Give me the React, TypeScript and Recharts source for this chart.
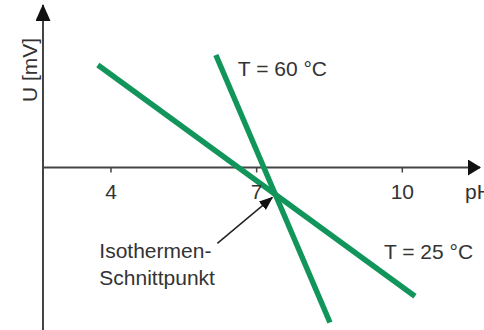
import React from 'react';
import { LineChart, Line, XAxis, YAxis, ReferenceLine, ReferenceDot } from 'recharts';

// pH (x) / U in mV (y) — schematic electrode characteristic
const series25 = [
  { ph: 3.73, u: 82 },
  { ph: 10.26, u: -103 },
];
const series60 = [
  { ph: 6.16, u: 90 },
  { ph: 8.51, u: -124 },
];
const xTicks = [4, 7, 10];
const xDomain: [number, number] = [2.6, 11.6];
const yDomain: [number, number] = [-130, 130];

const label25 = 'T = 25 °C';
const label60 = 'T = 60 °C';
const yLabel = 'U [mV]';
const xLabel = 'pH';
const annotationLines = ['Isothermen-', 'Schnittpunkt'];

const GREEN = '#12955a';
const AXIS = '#444';
const TEXT = '#333';
const FONT = '"Liberation Sans", Arial, Helvetica, sans-serif';

// intersection of the two isotherms, derived from the series
function intersect(a: typeof series25, b: typeof series60) {
  const ma = (a[1].u - a[0].u) / (a[1].ph - a[0].ph);
  const mb = (b[1].u - b[0].u) / (b[1].ph - b[0].ph);
  const x = (b[0].u - a[0].u + ma * a[0].ph - mb * b[0].ph) / (ma - mb);
  const y = a[0].u + ma * (x - a[0].ph);
  return { x, y };
}
const cross = intersect(series25, series60);

const textStyle = { fontFamily: FONT, fontSize: 21, fill: TEXT };

export default function App() {
  return (
    <div style={{ position: 'absolute', left: 0, top: 0, width: 484, height: 330, background: '#fff' }}>
      <LineChart width={484} height={330} margin={{ top: 5, right: 4, bottom: 0, left: 0 }}>
        <defs>
          <marker id="arrowY" viewBox="0 0 17 15" refX={16} refY={7.5} markerWidth={17} markerHeight={15}
            markerUnits="userSpaceOnUse" orient="auto-start-reverse">
            <path d="M0,0 L17,7.5 L0,15 z" fill="#111" />
          </marker>
          <marker id="arrowX" viewBox="0 0 13 16" refX={12} refY={8} markerWidth={13} markerHeight={16}
            markerUnits="userSpaceOnUse" orient="auto">
            <path d="M0,0 L13,8 L0,16 z" fill="#111" />
          </marker>
          <marker id="arrowSmall" viewBox="0 0 14 11" refX={13} refY={5.5} markerWidth={14} markerHeight={11}
            markerUnits="userSpaceOnUse" orient="auto">
            <path d="M0,0 L14,5.5 L0,11 z" fill="#111" />
          </marker>
        </defs>
        <XAxis type="number" dataKey="ph" domain={xDomain} hide />
        <YAxis
          type="number"
          dataKey="u"
          domain={yDomain}
          width={43}
          tick={false}
          tickLine={false}
          axisLine={{ stroke: AXIS, strokeWidth: 2, markerStart: 'url(#arrowY)' } as any}
          label={(p: any) => {
            const vb = p.viewBox || {};
            const cx = (vb.x ?? 0) + (vb.width ?? 43) - 14;
            const cy = (vb.y ?? 5) + 65;
            return (
              <text x={cx} y={cy} textAnchor="middle" dominantBaseline="central"
                transform={`rotate(-90, ${cx}, ${cy})`} style={textStyle}>
                {yLabel}
              </text>
            );
          }}
        />
        <ReferenceLine y={0} stroke={AXIS} strokeWidth={2} markerEnd="url(#arrowX)" />
        {xTicks.map((t) => (
          <ReferenceDot
            key={t}
            x={t}
            y={0}
            shape={(p: any) => (
              <g>
                <line x1={p.cx} x2={p.cx} y1={p.cy} y2={p.cy + 5} stroke={AXIS} strokeWidth={1.5} />
                <text x={p.cx} y={p.cy + 31} textAnchor="middle" style={textStyle}>{t}</text>
              </g>
            )}
          />
        ))}
        <ReferenceDot
          x={xDomain[1]}
          y={0}
          shape={(p: any) => (
            <text x={p.cx - 15} y={p.cy + 31} style={textStyle}>{xLabel}</text>
          )}
        />
        <Line
          data={series25}
          dataKey="u"
          stroke={GREEN}
          strokeWidth={5.5}
          dot={false}
          activeDot={false}
          isAnimationActive={false}
          label={(p: any) =>
            p.index === 1 ? (
              <text key="l25" x={p.x - 31} y={p.y - 37} style={textStyle}>{label25}</text>
            ) : <g key={'e' + p.index} />
          }
        />
        <Line
          data={series60}
          dataKey="u"
          stroke={GREEN}
          strokeWidth={5.5}
          dot={false}
          activeDot={false}
          isAnimationActive={false}
          label={(p: any) =>
            p.index === 0 ? (
              <text key="l60" x={p.x + 22} y={p.y + 21} style={textStyle}>{label60}</text>
            ) : <g key={'f' + p.index} />
          }
        />
        <ReferenceDot
          x={cross.x}
          y={cross.y}
          shape={(p: any) => (
            <g>
              <line x1={p.cx - 58} y1={p.cy + 49} x2={p.cx - 3} y2={p.cy + 3} stroke="#222" strokeWidth={1.5}
                markerEnd="url(#arrowSmall)" />
              <text x={p.cx - 176} y={p.cy + 64} style={textStyle}>{annotationLines[0]}</text>
              <text x={p.cx - 176} y={p.cy + 91} style={textStyle}>{annotationLines[1]}</text>
            </g>
          )}
        />
      </LineChart>
    </div>
  );
}
